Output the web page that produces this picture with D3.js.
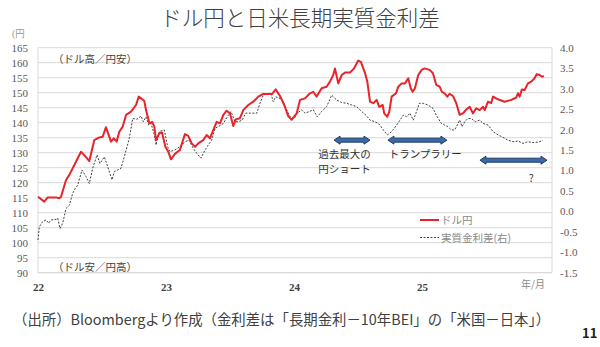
<!DOCTYPE html>
<html><head><meta charset="utf-8">
<script src="https://cdn.jsdelivr.net/npm/d3@7"></script>
<style>body{margin:0;background:#fff}svg{display:block}</style>
</head><body>
<svg id="c" width="600" height="347"></svg>
<script>
// ---- data (decimal year, value) ----
const usdjpyT = [2022.000,2022.049,2022.076,2022.141,2022.166,2022.180,2022.219,2022.245,2022.284,2022.336,2022.362,2022.401,2022.440,2022.479,2022.505,2022.531,2022.570,2022.591,2022.615,2022.635,2022.662,2022.688,2022.727,2022.766,2022.787,2022.830,2022.844,2022.870,2022.891,2022.909,2022.922,2022.948,2022.969,2022.995,2023.018,2023.039,2023.070,2023.109,2023.148,2023.174,2023.201,2023.227,2023.252,2023.291,2023.318,2023.344,2023.370,2023.396,2023.422,2023.448,2023.474,2023.500,2023.526,2023.545,2023.578,2023.604,2023.643,2023.682,2023.721,2023.760,2023.799,2023.830,2023.857,2023.891,2023.924,2023.955,2023.982,2024.021,2024.047,2024.086,2024.125,2024.151,2024.177,2024.216,2024.255,2024.281,2024.307,2024.320,2024.346,2024.373,2024.398,2024.438,2024.469,2024.502,2024.523,2024.555,2024.573,2024.594,2024.620,2024.646,2024.666,2024.693,2024.705,2024.729,2024.745,2024.763,2024.797,2024.815,2024.841,2024.867,2024.893,2024.912,2024.927,2024.945,2024.971,2024.998,2025.021,2025.060,2025.086,2025.112,2025.138,2025.156,2025.177,2025.198,2025.216,2025.242,2025.268,2025.295,2025.320,2025.346,2025.373,2025.398,2025.424,2025.451,2025.477,2025.490,2025.516,2025.541,2025.555,2025.594,2025.646,2025.698,2025.737,2025.750,2025.763,2025.781,2025.802,2025.828,2025.854,2025.880,2025.898,2025.920,2025.938,2025.953];
const usdjpy = [115.3,113.7,115.1,115.1,114.8,115.3,120.9,122.6,125.9,130.3,129.2,127.2,134.2,135.1,135.3,138.5,133.7,134.8,133.7,137.0,138.7,142.6,143.7,145.9,148.7,147.3,144.2,139.8,140.3,138.7,134.2,136.5,136.7,132.0,130.3,127.8,129.6,130.9,136.2,135.6,133.1,132.0,133.1,134.2,135.9,134.8,137.6,140.3,139.8,142.6,144.0,143.1,138.9,141.1,141.5,144.2,145.9,147.0,148.7,149.6,149.6,149.6,151.1,148.9,145.9,142.2,141.0,143.1,147.6,148.1,149.8,150.3,148.7,151.5,152.0,153.7,155.9,158.1,153.1,155.9,156.7,156.7,158.1,160.7,160.3,156.5,153.7,147.0,146.5,147.6,145.3,145.9,143.1,142.0,143.7,148.7,149.8,152.0,153.1,153.1,154.8,151.5,150.3,151.5,155.9,157.6,158.1,157.6,156.5,152.6,152.0,150.3,149.8,148.7,149.6,148.9,146.5,142.6,143.1,144.4,145.3,143.1,144.8,144.2,145.3,144.2,147.0,146.5,148.7,147.8,147.0,147.6,148.4,149.8,148.7,151.1,150.9,153.1,153.7,154.8,156.2,155.9,155.3,155.6];

const spreadT = [2022.000,2022.010,2022.037,2022.063,2022.084,2022.102,2022.141,2022.154,2022.172,2022.193,2022.219,2022.245,2022.271,2022.291,2022.310,2022.344,2022.375,2022.401,2022.427,2022.461,2022.484,2022.518,2022.545,2022.578,2022.596,2022.648,2022.674,2022.713,2022.740,2022.773,2022.805,2022.823,2022.844,2022.865,2022.883,2022.909,2022.922,2022.948,2022.987,2023.013,2023.031,2023.070,2023.109,2023.148,2023.180,2023.213,2023.240,2023.273,2023.305,2023.330,2023.357,2023.383,2023.409,2023.448,2023.487,2023.508,2023.539,2023.565,2023.596,2023.623,2023.670,2023.709,2023.734,2023.760,2023.787,2023.820,2023.838,2023.857,2023.891,2023.916,2023.943,2023.977,2024.002,2024.026,2024.060,2024.086,2024.120,2024.151,2024.182,2024.216,2024.255,2024.295,2024.334,2024.373,2024.412,2024.451,2024.490,2024.529,2024.563,2024.594,2024.633,2024.666,2024.698,2024.729,2024.750,2024.776,2024.802,2024.828,2024.854,2024.880,2024.906,2024.932,2024.953,2024.979,2025.010,2025.047,2025.086,2025.112,2025.151,2025.177,2025.203,2025.229,2025.255,2025.276,2025.295,2025.313,2025.334,2025.359,2025.385,2025.416,2025.451,2025.477,2025.516,2025.555,2025.594,2025.633,2025.672,2025.711,2025.750,2025.789,2025.828,2025.867,2025.906,2025.945];
const spread = [-0.70,-0.38,-0.25,-0.21,-0.29,-0.21,-0.20,-0.17,-0.42,-0.29,0.07,0.15,0.44,0.56,0.64,1.01,0.85,0.68,1.05,1.38,1.17,1.33,1.09,0.77,0.97,1.05,1.33,1.78,2.27,2.25,2.33,2.19,2.31,2.11,2.15,1.87,1.62,1.95,1.99,1.58,1.46,1.50,1.58,1.70,1.74,1.54,1.42,1.30,1.50,1.62,1.74,2.03,2.07,2.15,2.35,2.44,2.19,2.19,2.23,2.40,2.40,2.40,2.64,2.84,2.88,2.88,2.68,2.80,2.76,2.68,2.48,2.27,2.27,2.40,2.48,2.40,2.44,2.48,2.31,2.44,2.56,2.84,2.72,2.66,2.64,2.60,2.56,2.44,2.35,2.23,2.19,2.13,1.99,1.87,1.91,2.00,2.11,2.23,2.35,2.31,2.40,2.23,2.40,2.64,2.64,2.60,2.52,2.35,2.15,2.11,2.07,1.99,1.99,2.11,2.23,2.07,2.19,2.27,2.27,2.19,2.23,2.15,2.11,1.95,1.87,1.81,1.74,1.70,1.72,1.66,1.70,1.68,1.69,1.73];

const leftTicks = [90,95,100,105,110,115,120,125,130,135,140,145,150,155,160,165];
const rightTicks = [-1.5,-1.0,-0.5,0.0,0.5,1.0,1.5,2.0,2.5,3.0,3.5,4.0];
const yearTicks = [2022,2023,2024,2025];
const yearLabels = ["22","23","24","25"];

// annotations: [start year, end year, right-axis value]
const arrowsData = [[2024.313,2024.594,1.74],[2024.734,2025.195,1.74],[2025.453,2025.977,1.25]];
const notes = [
  {t:"過去最大の", x:2024.190, v:1.40},
  {t:"円ショート", x:2024.190, v:1.04},
  {t:"トランプラリー", x:2024.740, v:1.40},
  {t:"?", x:2025.835, v:0.82}
];

const title = "ドル円と日米長期実質金利差";
const source = "（出所）Bloombergより作成（金利差は「長期金利－10年BEI」の「米国－日本」）";

// ---- chart ----
const svg = d3.select("#c");
const L=38, R=552, T=47.7, B=272.7;
const x = d3.scaleLinear().domain([2022, 2026.016]).range([L,R]);
const yL = d3.scaleLinear().domain([90,165]).range([B,T]);
const yR = d3.scaleLinear().domain([-1.5,4.0]).range([B,T]);

const serif = "'Liberation Serif','DejaVu Serif',serif";
const jp = "'Noto Sans CJK JP','Noto Sans',sans-serif";

svg.append("text").attr("x",300).attr("y",26).attr("text-anchor","middle")
  .attr("font-family",jp).attr("font-size",21.5).attr("font-weight",300).attr("fill","#404040").text(title);

// gridlines
svg.append("g").selectAll("line").data(leftTicks.slice(1)).join("line")
  .attr("x1",L).attr("x2",R).attr("y1",d=>yL(d)).attr("y2",d=>yL(d))
  .attr("stroke","#d9d9d9").attr("stroke-width",1);
svg.append("line").attr("x1",L).attr("x2",R).attr("y1",B).attr("y2",B).attr("stroke","#d0d0d0");
svg.append("line").attr("x1",L).attr("x2",L).attr("y1",T).attr("y2",B).attr("stroke","#d9d9d9");
svg.append("line").attr("x1",R).attr("x2",R).attr("y1",T).attr("y2",B).attr("stroke","#d9d9d9");

// axes
const gl = svg.append("g").attr("transform",`translate(${L-10},0)`)
  .call(d3.axisLeft(yL).tickValues(leftTicks).tickSize(0).tickPadding(0));
gl.attr("font-family",serif);
gl.select(".domain").remove();
gl.selectAll("text").style("font-family",serif).attr("font-size",11).attr("fill","#595959");

const gr = svg.append("g").attr("transform",`translate(${R+8},0)`)
  .call(d3.axisRight(yR).tickValues(rightTicks).tickSize(0).tickPadding(0).tickFormat(d3.format(".1f")));
gr.attr("font-family",serif);
gr.select(".domain").remove();
gr.selectAll("text").style("font-family",serif).attr("font-size",11).attr("fill","#595959")
  .text(d=>d3.format(".1f")(d).replace("−","-"));

const gx = svg.append("g").attr("transform",`translate(0,${B+10})`)
  .call(d3.axisBottom(x).tickValues(yearTicks).tickSize(0).tickPadding(0).tickFormat((d,i)=>yearLabels[i]));
gx.attr("font-family",serif);
gx.select(".domain").remove();
gx.selectAll("text").style("font-family",serif).attr("font-size",11).attr("font-weight","bold").attr("fill","#404040");

svg.append("text").attr("x",12).attr("y",37).attr("font-family",serif).attr("font-size",10).attr("fill","#9a9a9a").text("(円");
svg.append("text").attr("x",521).attr("y",288).attr("font-family",jp).attr("font-size",10).attr("fill","#8a8a8a").text("年/月");

// lines
const lineR = d3.line().x((d,i)=>x(spreadT[i])).y(d=>yR(d));
svg.append("path").datum(spread).attr("d",lineR).attr("fill","none")
  .attr("stroke","#404040").attr("stroke-width",1).attr("stroke-dasharray","2,1.5");
const lineL = d3.line().x((d,i)=>x(usdjpyT[i])).y(d=>yL(d));
svg.append("path").datum(usdjpy).attr("d",lineL).attr("fill","none")
  .attr("stroke","#e8242b").attr("stroke-width",2).attr("stroke-linejoin","round");

// inner labels
svg.append("text").attr("x",53).attr("y",63).attr("font-family",jp).attr("font-size",10.5).attr("fill","#404040").text("（ドル高／円安）");
svg.append("text").attr("x",53).attr("y",271).attr("font-family",jp).attr("font-size",10.5).attr("fill","#404040").text("（ドル安／円高）");

// arrows
function dblArrow(x1,x2,y){
  const h=4, sh=2, hl=6;
  return `M${x1},${y} L${x1+hl},${y-h} L${x1+hl},${y-sh} L${x2-hl},${y-sh} L${x2-hl},${y-h} L${x2},${y} L${x2-hl},${y+h} L${x2-hl},${y+sh} L${x1+hl},${y+sh} L${x1+hl},${y+h} Z`;
}
svg.append("g").selectAll("path").data(arrowsData).join("path")
  .attr("d",d=>dblArrow(x(d[0]),x(d[1]),yR(d[2])))
  .attr("fill","#3a6aa8").attr("stroke","#1f3d66").attr("stroke-width",1);

svg.append("g").selectAll("text").data(notes).join("text")
  .attr("x",d=>x(d.x)).attr("y",d=>yR(d.v)+4).attr("font-family",jp).attr("font-size",10.5)
  .attr("fill","#303030").text(d=>d.t);

// legend
svg.append("line").attr("x1",420).attr("x2",439).attr("y1",220).attr("y2",220).attr("stroke","#e8242b").attr("stroke-width",2);
svg.append("text").attr("x",441).attr("y",224).attr("font-family",jp).attr("font-size",10.5).attr("fill","#8a8a8a").text("ドル円");
svg.append("line").attr("x1",420).attr("x2",439).attr("y1",237.5).attr("y2",237.5).attr("stroke","#404040").attr("stroke-width",1).attr("stroke-dasharray","2,1.5");
svg.append("text").attr("x",441).attr("y",241.5).attr("font-family",jp).attr("font-size",10.5).attr("fill","#8a8a8a").text("実質金利差(右)");

// footer
svg.append("text").attr("x",13).attr("y",325).attr("font-family",jp).attr("font-size",14.4).attr("fill","#404040").text(source);
svg.append("text").attr("x",582).attr("y",338).attr("font-family",jp).attr("font-size",13).attr("font-weight","bold").attr("fill","#202020").text("11");
</script>
</body></html>
